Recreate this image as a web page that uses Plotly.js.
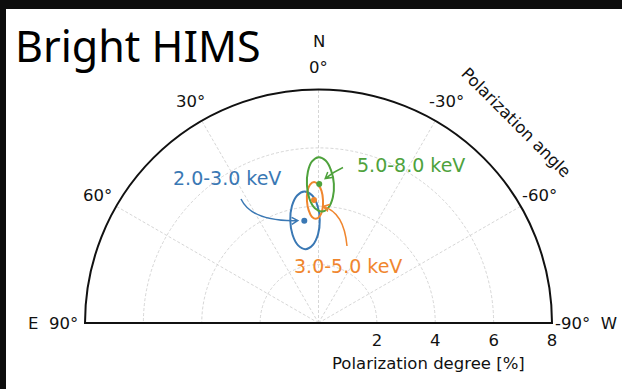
<!DOCTYPE html>
<html>
<head>
<meta charset="utf-8">
<script src="https://cdn.plot.ly/plotly-3.0.1.min.js"></script>
<style>html,body{margin:0;padding:0;background:#fff;}</style>
</head>
<body>
<div id="chart" style="width:622px;height:389px"></div>
<script>
// Energy bands and their colours
const bands = ['2.0-3.0 keV', '3.0-5.0 keV', '5.0-8.0 keV'];
const bandColors = ['#3a78b4', '#f0862e', '#4ea23c'];

// Best-fit polarization degree [%] and polarization angle [deg] per band
const pdBest = [3.54, 4.22, 4.76];
const paBest = [7.9, 2.1, -0.3];

// Confidence contours: one ring of (PD, PA) points per band
const contourPd23 = [4.53, 4.38, 4.02, 3.53, 3.04, 2.68, 2.57, 2.75, 3.15, 3.64, 4.11, 4.43];
const contourPa23 = [6.1, 2.9, 0.5, -0.7, 0.3, 4.2, 10.0, 14.7, 16.4, 15.4, 12.8, 9.5];
const contourPd35 = [4.83, 4.75, 4.53, 4.21, 3.90, 3.66, 3.57, 3.65, 3.88, 4.20, 4.52, 4.75];
const contourPa35 = [1.8, 0.2, -1.3, -2.1, -2.0, -0.7, 1.4, 3.6, 5.0, 5.4, 4.8, 3.5];
const contourPd58 = [5.68, 5.57, 5.25, 4.80, 4.33, 3.97, 3.82, 3.93, 4.27, 4.73, 5.20, 5.54];
const contourPa58 = [-0.1, -2.5, -4.7, -6.3, -6.5, -4.9, -1.8, 1.8, 4.2, 4.8, 4.0, 2.3];

// Axis ticks
const angleTicks = [90, 60, 30, 0, -30, -60, -90];
const angleTickText = ['E\u00a0\u00a090°', '60°', '30°', '0°', '-30°', '-60°', '-90°\u00a0\u00a0W'];
const pdTicks = [2, 4, 6, 8];
const pdMax = 8;

// Figure geometry
const W = 622, H = 389;
const domX = [85, 552];      // px, left/right ends of the half disc
const domY = [89.5, 323];    // px, top of arc / baseline
const poleX = (domX[0] + domX[1]) / 2;
const poleY = domY[1];
const rimPx = (domX[1] - domX[0]) / 2;
const pxPerPd = rimPx / pdMax;

function toPx(r, theta) {
  const a = (90 + theta) * Math.PI / 180;
  return [poleX + r * pxPerPd * Math.cos(a), poleY - r * pxPerPd * Math.sin(a)];
}
const fx = x => (x / W).toFixed(5);
const fy = y => (1 - y / H).toFixed(5);

// Curved label arrow with an open head
function arrowPath(tail, ctrl, tip) {
  const dx = tip[0] - ctrl[0], dy = tip[1] - ctrl[1];
  const L = Math.hypot(dx, dy), ux = dx / L, uy = dy / L;
  const head = 7, spread = 30 * Math.PI / 180;
  const wing = s => [tip[0] - head * (ux * Math.cos(s) - uy * Math.sin(s)),
                     tip[1] - head * (uy * Math.cos(s) + ux * Math.sin(s))];
  const w1 = wing(spread), w2 = wing(-spread);
  return `M${fx(tail[0])},${fy(tail[1])} Q${fx(ctrl[0])},${fy(ctrl[1])} ${fx(tip[0])},${fy(tip[1])}` +
         ` M${fx(w1[0])},${fy(w1[1])} L${fx(tip[0])},${fy(tip[1])} L${fx(w2[0])},${fy(w2[1])}`;
}

const closeRing = a => a.concat([a[0]]);
const contours = [
  [contourPd23, contourPa23],
  [contourPd35, contourPa35],
  [contourPd58, contourPa58]
];

const traces = [];
// straight edge of the half disc (E - pole - W)
traces.push({
  type: 'scatterpolar', r: [pdMax, 0, pdMax], theta: [90, 90, -90],
  mode: 'lines', line: {color: '#111', width: 2},
  hoverinfo: 'skip', showlegend: false
});
contours.forEach((c, i) => {
  traces.push({
    type: 'scatterpolar', name: bands[i],
    r: closeRing(c[0]), theta: closeRing(c[1]),
    mode: 'lines', line: {color: bandColors[i], width: 2, shape: 'spline', smoothing: 1},
    showlegend: false
  });
});
traces.push({
  type: 'scatterpolar', r: pdBest, theta: paBest, mode: 'markers',
  marker: {color: bandColors, size: 6}, showlegend: false
});

// Label positions (px) and arrow tail / bend, arrow tips offset from best-fit points
const labelPos = [[227, 178], [348, 266], [411, 165]];
const arrowTail = [[241, 199], [347, 246], [343, 167.5]];
const arrowCtrl = [[252, 222], [344, 212], [334, 171.5]];
const tipOffset = [[-6.5, 0], [9, 6.5], [6, -5.5]];

const tickFont = {family: 'DejaVu Sans', size: 16.5, color: '#111'};
const shapes = [];
const annotations = [];
bands.forEach((b, i) => {
  const p = toPx(pdBest[i], paBest[i]);
  const tip = [p[0] + tipOffset[i][0], p[1] + tipOffset[i][1]];
  shapes.push({
    type: 'path', xref: 'paper', yref: 'paper',
    path: arrowPath(arrowTail[i], arrowCtrl[i], tip),
    line: {color: bandColors[i], width: 1.5}
  });
  annotations.push({
    text: b, xref: 'paper', yref: 'paper',
    x: labelPos[i][0] / W, y: 1 - labelPos[i][1] / H,
    xanchor: 'center', yanchor: 'middle', showarrow: false,
    font: {family: 'DejaVu Sans', size: 19, color: bandColors[i]}
  });
});

// Angle labels, centred a fixed distance outside the rim; the two ends sit beside the baseline
angleTicks.forEach((t, i) => {
  let x, y, xa = 'center';
  if (t === 90) { x = poleX - rimPx - 5; y = poleY; xa = 'right'; }
  else if (t === -90) { x = poleX + rimPx + 1; y = poleY; xa = 'left'; }
  else {
    const a = t * Math.PI / 180, d = rimPx + 22;
    x = poleX - d * Math.sin(a); y = poleY - d * Math.cos(a);
  }
  annotations.push({
    text: angleTickText[i], xref: 'paper', yref: 'paper', x: x / W, y: 1 - y / H,
    xanchor: xa, yanchor: 'middle', showarrow: false, font: tickFont
  });
});
annotations.push({
  text: 'N', xref: 'paper', yref: 'paper', x: poleX / W, y: 1 - 42 / H,
  xanchor: 'center', yanchor: 'middle', showarrow: false, font: tickFont
});
annotations.push({
  text: 'Polarization angle', xref: 'paper', yref: 'paper', x: 516 / W, y: 1 - 122 / H,
  xanchor: 'center', yanchor: 'middle', showarrow: false, textangle: 45, font: tickFont
});
annotations.push({
  text: 'Polarization degree [%]', xref: 'paper', yref: 'paper', x: 428 / W, y: 1 - 363 / H,
  xanchor: 'center', yanchor: 'middle', showarrow: false, font: tickFont
});

// dark frame strips along the top and left edges
shapes.push({type: 'rect', xref: 'paper', yref: 'paper', x0: 0, x1: 1, y0: 1 - 9 / H, y1: 1,
             fillcolor: '#0d0d0d', line: {width: 0}, layer: 'above'});
shapes.push({type: 'rect', xref: 'paper', yref: 'paper', x0: 0, x1: 6 / W, y0: 0, y1: 1,
             fillcolor: '#0d0d0d', line: {width: 0}, layer: 'above'});

const gridStyle = {showgrid: true, gridcolor: '#cccccc', gridwidth: 0.8, griddash: '3px,2px'};

const layout = {
  width: W, height: H,
  margin: {l: 0, r: 0, t: 0, b: 0},
  paper_bgcolor: '#fff',
  showlegend: false,
  title: {
    text: 'Bright HIMS', xref: 'paper', yref: 'paper',
    x: 15 / W, xanchor: 'left', y: 1 - 47 / H, yanchor: 'middle',
    font: {family: 'Noto Sans', size: 43, color: '#000'}
  },
  polar: {
    domain: {x: [domX[0] / W, domX[1] / W], y: [1 - domY[1] / H, 1 - domY[0] / H]},
    sector: [0, 180],
    bgcolor: '#fff',
    angularaxis: Object.assign({
      rotation: 90, direction: 'counterclockwise', thetaunit: 'degrees',
      tickmode: 'array', tickvals: angleTicks, ticktext: angleTickText,
      showticklabels: false,
      showline: true, linecolor: '#111', linewidth: 2,
      ticks: ''
    }, gridStyle),
    radialaxis: Object.assign({
      range: [0, pdMax], angle: 0, side: 'clockwise', tickangle: 0,
      tickmode: 'array', tickvals: pdTicks,
      showline: false,
      ticks: 'outside', ticklen: 3, tickcolor: 'rgba(0,0,0,0)',
      tickfont: tickFont
    }, gridStyle)
  },
  shapes: shapes,
  annotations: annotations
};

Plotly.newPlot('chart', traces, layout, {displayModeBar: false, staticPlot: true});
</script>
</body>
</html>
